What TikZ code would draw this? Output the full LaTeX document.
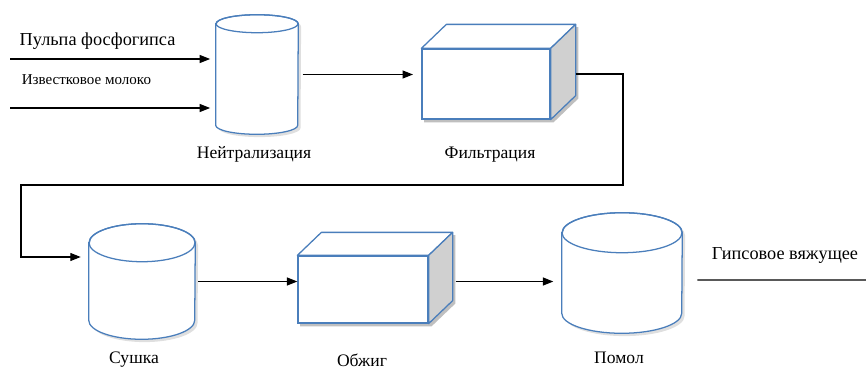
\documentclass[tikz,border=0pt]{standalone}
\usepackage{fontspec}
\setmainfont{Liberation Serif}
\usetikzlibrary{arrows.meta,calc,shadows,backgrounds}
\definecolor{outlineblue}{HTML}{4A7EBB}
\definecolor{sidegray}{HTML}{D0D0D0}

\tikzset{
  tank/.style={rectangle, inner sep=0pt},
  tankline/.style={draw=outlineblue, line width=0.9pt},
  front/.style={rectangle, draw=outlineblue, line width=0.9pt, fill=white},
  flow/.style={line width=0.8pt, -{Triangle[length=2.6mm,width=2mm]}},
  caption/.style={font=\fontsize{12.5}{14}\selectfont}
}

\begin{document}
\begin{tikzpicture}
  \useasboundingbox (0,0) rectangle (21.65,-9.35);

  % apparatus
  \node[tank, minimum width=2.05cm, minimum height=2.975cm] (neu) at (6.425,-1.8625) {};
  \node[tank, minimum width=2.65cm, minimum height=2.875cm] (dry) at (3.55,-7.0375) {};
  \node[tank, minimum width=3cm, minimum height=3cm] (mill) at (15.55,-6.825) {};

  \foreach \t/\rx/\e in {neu/1.025/0.225, dry/1.325/0.475, mill/1.5/0.5} {
    \draw[tankline, fill=white, drop shadow={shadow xshift=2pt, shadow yshift=-2pt, opacity=0.25}]
      ($(\t.north west)+(0,-\e)$) -- ($(\t.south west)+(0,\e)$)
      arc[start angle=180, end angle=360, x radius=\rx, y radius=\e]
      -- ($(\t.north east)+(0,-\e)$)
      arc[start angle=0, end angle=180, x radius=\rx, y radius=\e] -- cycle;
    \draw[tankline] ($(\t.north)+(0,-\e)$) ellipse[x radius=\rx, y radius=\e];
  }

  \node[front, minimum width=3.2cm, minimum height=1.75cm] (filt) at (12.15,-2.1) {};
  \node[front, minimum width=3.25cm, minimum height=1.675cm] (burn) at (9.075,-7.2375) {};

  % box tops and sides
  \foreach \b/\dx/\dy in {filt/0.625/0.6, burn/0.6/0.575} {
    \begin{scope}[on background layer]
      \fill[black, opacity=0.25] ($(\b.south west)+(2pt,-2pt)$) -- ($(\b.north west)+(2pt,-2pt)$)
        -- ($(\b.north west)+(\dx,\dy)+(2pt,-2pt)$) -- ($(\b.north east)+(\dx,\dy)+(2pt,-2pt)$)
        -- ($(\b.south east)+(\dx,\dy)+(2pt,-2pt)$) -- ($(\b.south east)+(2pt,-2pt)$) -- cycle;
    \end{scope}
    \draw[draw=outlineblue, line width=0.9pt, fill=white, line join=round]
      (\b.north west) -- ++(\dx,\dy) -- ($(\b.north east)+(\dx,\dy)$) -- (\b.north east) -- cycle;
    \draw[draw=outlineblue, line width=0.9pt, fill=sidegray, line join=round]
      (\b.north east) -- ++(\dx,\dy) -- ($(\b.south east)+(\dx,\dy)$) -- (\b.south east) -- cycle;
  }

  % captions
  \node[caption] (neulbl) at (6.35,-3.85) {Нейтрализация};
  \node[caption] (filtlbl) at (12.25,-3.875) {Фильтрация};
  \node[caption] (drylbl) at (3.35,-9.0) {Сушка};
  \node[caption] (burnlbl) at (9.05,-9.0) {Обжиг};
  \node[caption] (milllbl) at (15.475,-8.95) {Помол};

  % feeds
  \coordinate (pulp) at (0.25,-1.475);
  \coordinate (lime) at (0.25,-2.7);
  \node[font=\fontsize{13}{15}\selectfont] (pulplbl) at (2.44,-1.025) {Пульпа фосфогипса};
  \node[font=\fontsize{10.7}{12}\selectfont] (limelbl) at (2.16,-2.0) {Известковое молоко};
  \draw[flow, shorten >=4pt] (pulp) -- (pulp -| neu.west);
  \draw[flow, shorten >=4pt] (lime) -- (lime -| neu.west);

  % main line
  \draw[flow, shorten <=3pt, shorten >=6pt] (neu.east) -- (neu.east -| filt.west);
  \coordinate (fout) at ($(filt.east)+(0.625,0.25)$);
  \coordinate (bendA) at (15.575,-4.625);
  \coordinate (bendB) at (0.525,-4.625);
  \coordinate (din) at ($(dry.west)+(-0.2,0.6125)$);
  \draw[flow] (fout) -| (bendA) -- (bendB) |- (din);
  \draw[flow, shorten <=2pt] (dry.east) -- (dry.east -| burn.west);
  \coordinate (bout) at ($(burn.east)+(0.675,0.2)$);
  \draw[flow, shorten >=6pt] (bout) -- (bout -| mill.west);

  % product
  \coordinate (prod) at (21.65,-7.0);
  \draw[line width=0.8pt] ($(mill.east)+(0.375,-0.175)$) -- (prod);
  \node[font=\fontsize{13}{15}\selectfont] (prodlbl) at (19.625,-6.375) {Гипсовое вяжущее};
\end{tikzpicture}
\end{document}
